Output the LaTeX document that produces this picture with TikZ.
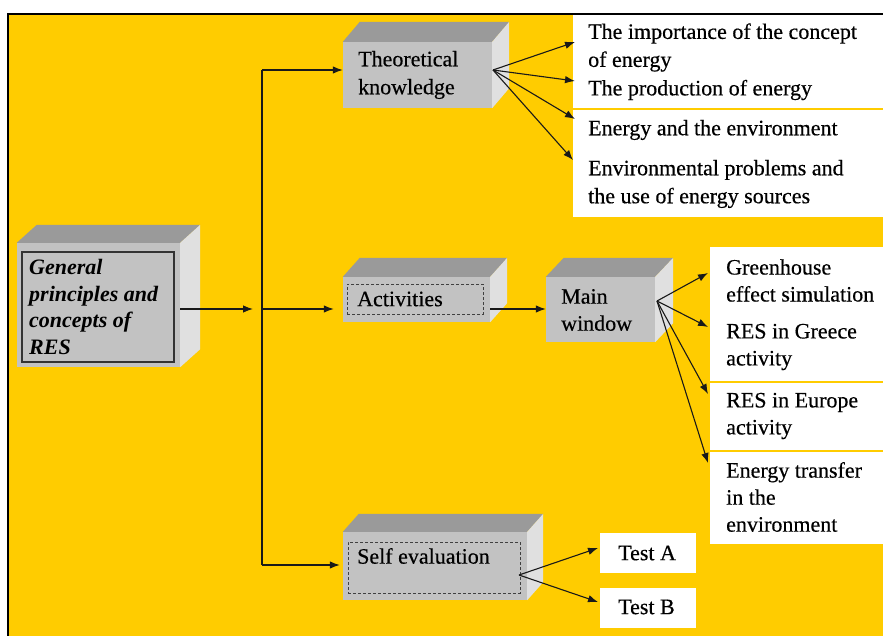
\documentclass[tikz,border=0pt]{standalone}
\usepackage{fontspec}
\setmainfont{Liberation Serif}
\newfontfamily\heavyserif{Liberation Serif}[FakeBold=0.4]
\usetikzlibrary{arrows.meta,calc,fit}
\definecolor{bgyellow}{HTML}{FFCC00}
\definecolor{ctop}{HTML}{9A9A9A}
\definecolor{cfront}{HTML}{C2C2C2}
\definecolor{cside}{HTML}{E0E0E0}
\newcommand{\cubesides}[3]{%
  \fill[ctop] (#1.north west) -- ++(#2,-#3) -- ([shift={(#2,-#3)}]#1.north east) -- (#1.north east) -- cycle;
  \fill[cside] (#1.north east) -- ++(#2,-#3) -- ([shift={(#2,-#3)}]#1.south east) -- (#1.south east) -- cycle;}
\begin{document}
\begin{tikzpicture}[x=1pt,y=-1pt,
  txt/.style={font=\heavyserif\fontsize{22}{28}\selectfont, inner sep=0, align=left, anchor=west},
  rtxt/.style={font=\heavyserif\fontsize{22}{27}\selectfont, inner sep=0, align=left, anchor=west},
  front/.style={fill=cfront, inner sep=0, draw=none},
  wbox/.style={fill=white, inner sep=0, draw=none},
  dbox/.style={draw=black!75, line width=0.8pt, dash pattern=on 3pt off 2pt, inner sep=0},
  sbox/.style={draw=black!80, line width=1.2pt, inner sep=0},
  arr/.style={-{Latex[length=10pt,width=7.5pt]}, line width=1.1pt, draw=black!90},
  ln/.style={line width=1.1pt, draw=black!90}]
\useasboundingbox (0,0) rectangle (883,636);
\fill[white] (0,0) rectangle (883,636);
\fill[bgyellow] (8,14) rectangle (883,636);
\draw[line width=1.5pt, black] (8,636) -- (8,14) -- (883,14);

% white boxes
\node[wbox, fit={(573,15) (883,108)}] (w1) {};
\node[wbox, fit={(573,110) (883,217)}] (w2) {};
\node[wbox, fit={(710,247) (883,381)}] (r1) {};
\node[wbox, fit={(710,383) (883,450)}] (r2) {};
\node[wbox, fit={(710,452) (883,544)}] (r3) {};
\node[wbox, fit={(600,533) (696,573)}] (ta) {};
\node[wbox, fit={(600,588) (696,628)}] (tb) {};

% cubes
\node[front, fit={(17,243) (180,367)}] (gen) {};
\cubesides{gen}{20}{18}
\node[sbox, fit={(22,252) (174,362)}] (geni) {};
\node[front, fit={(343,42) (492,108)}] (th) {};
\cubesides{th}{17}{20}
\node[front, fit={(343,277) (490,322)}] (act) {};
\cubesides{act}{17}{19}
\node[dbox, fit={(347,284) (483,314)}] (acti) {};
\node[front, fit={(546,277) (655,342)}] (mw) {};
\cubesides{mw}{18}{19}
\node[front, fit={(343,532) (527,600)}] (se) {};
\cubesides{se}{16}{18}
\node[dbox, fit={(348,542) (520,593)}] (sei) {};

% texts
\node[txt, font=\fontsize{22}{26.7}\selectfont\bfseries\itshape] (gent) at (29,307) {General\\principles and\\concepts of\\RES};
\node[txt] (tht) at (358,75) {Theoretical\\knowledge};
\node[txt] (actt) at (357,299) {Activities};
\node[rtxt] (mwt) at (561,310) {Main\\window};
\node[txt] (set) at (357,556) {Self evaluation};
\node[txt] (i1) at (588,47.5) {The importance of the concept\\of energy};
\node[txt] (i2) at (588,90) {The production of energy};
\node[txt] (i3) at (588,130) {Energy and the environment};
\node[txt] (i4) at (588,184) {Environmental problems and\\the use of energy sources};
\node[rtxt] (g1) at (726,280.5) {Greenhouse\\effect simulation};
\node[rtxt] (g2) at (726,347) {RES in Greece\\activity};
\node[rtxt] (g3) at (726,416) {RES in Europe\\activity};
\node[rtxt] (g4) at (726,497) {Energy transfer\\in the\\environment};
\node[txt] (tat) at (618,553) {Test A};
\node[txt] (tbt) at (618,607) {Test B};

% coordinates
\coordinate (jt) at (262,70);
\coordinate (jm) at (262,309);
\coordinate (jb) at (262,565);
\coordinate (jin) at (253,309);
\coordinate (thf) at (493,70);
\coordinate (mwf) at (657,301);
\coordinate (sef) at (519,575);
\coordinate (e1) at (575,42);
\coordinate (e2) at (575,81);
\coordinate (e3) at (575,119);
\coordinate (e4) at (573,160);
\coordinate (f1) at (708,273);
\coordinate (f2) at (708,327);
\coordinate (f3) at (708,394);
\coordinate (f4) at (708,463);
\coordinate (ea) at (598,548);
\coordinate (eb) at (598,602);

% connectors
\draw[arr] (gen.east |- jin) -- (jin);
\draw[ln] (jt) -- (jb);
\draw[arr] (jt) -- (th.west |- jt);
\draw[arr, shorten >=9pt] (jm) -- (act.west |- jm);
\draw[arr, shorten >=3pt] (jb) -- (se.west |- jb);
\draw[arr] (act.east |- jm) -- (mw.west |- jm);
\foreach \t in {e1,e2,e3,e4} \draw[arr] (thf) -- (\t);
\foreach \t in {f1,f2,f3,f4} \draw[arr] (mwf) -- (\t);
\foreach \t in {ea,eb} \draw[arr] (sef) -- (\t);
\end{tikzpicture}
\end{document}
